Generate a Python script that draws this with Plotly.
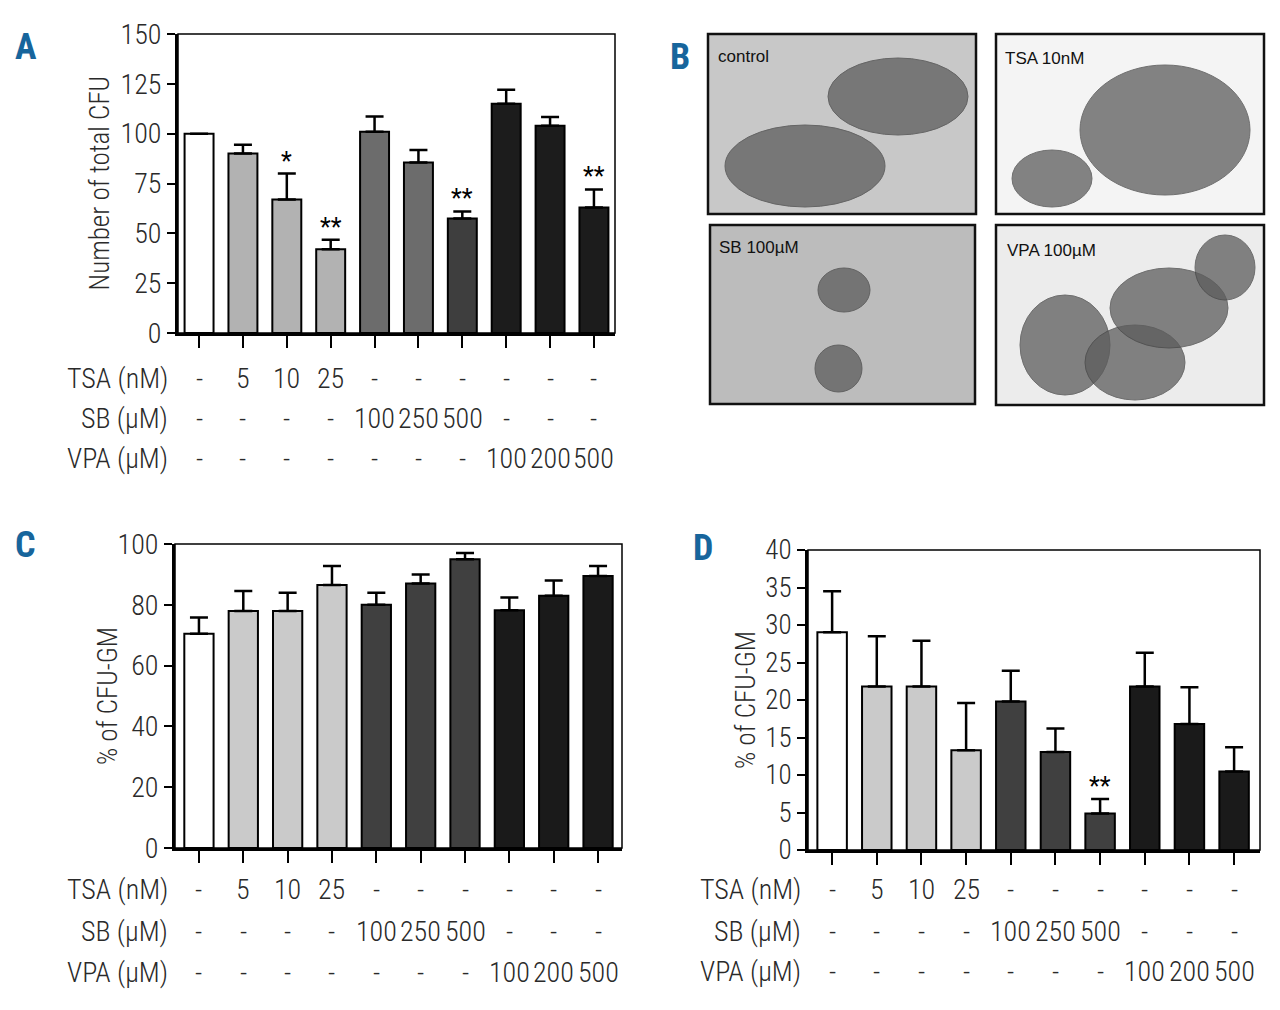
import plotly.graph_objects as go

W, H = 1280, 1010

# treatment rows shown under every bar chart
tsa_row = ["-", "5", "10", "25", "-", "-", "-", "-", "-", "-"]
sb_row = ["-", "-", "-", "-", "100", "250", "500", "-", "-", "-"]
vpa_row = ["-", "-", "-", "-", "-", "-", "-", "100", "200", "500"]
row_names = ["TSA (nM)", "SB (µM)", "VPA (µM)"]

# panel A: number of total CFU
a_vals = [100, 90, 67, 42, 101, 85.5, 57.4, 115, 104, 63]
a_errs = [100, 94.5, 80, 46.8, 108.6, 91.8, 61, 122, 108.3, 72]
a_sig = ["", "", "*", "**", "", "", "**", "", "", "**"]
a_cols = ["#ffffff", "#b2b2b2", "#b2b2b2", "#b2b2b2", "#6c6c6c", "#6c6c6c",
          "#3e3e3e", "#1c1c1c", "#1c1c1c", "#1c1c1c"]

# panel C: % of CFU-GM
c_vals = [70.5, 78, 78, 86.5, 80, 87, 95, 78.2, 83, 89.5]
c_errs = [75.8, 84.5, 84, 92.8, 84, 90, 97, 82.4, 88, 92.8]

# panel D: % of CFU-GM
d_vals = [29.05, 21.8, 21.8, 13.3, 19.8, 13.05, 4.85, 21.8, 16.8, 10.45]
d_errs = [34.5, 28.5, 27.9, 19.6, 23.9, 16.2, 6.8, 26.3, 21.7, 13.7]
d_sig = ["", "", "", "", "", "", "**", "", "", ""]
cd_cols = ["#ffffff", "#cacaca", "#cacaca", "#cacaca", "#404040", "#404040",
           "#404040", "#1a1a1a", "#1a1a1a", "#1a1a1a"]

# panel B: photo captions
photo_names = ["control", "TSA 10nM", "SB 100µM", "VPA 100µM"]

FONT = "Roboto Condensed, Liberation Sans Narrow, Roboto, sans-serif"
BLUE = "#17659c"
TXT = "#2a2a2a"
OFF = 8  # page margin of the html body


def px(x):
    return (x - OFF) / W


def py(y):
    return 1 - (y - OFF) / H


fig = go.Figure()
annotations = []
shapes = []


def note(x, y, text, size, xanchor="center", xref="paper", color=TXT, family=FONT, angle=0, weight=300):
    annotations.append(dict(x=x, y=y, xref=xref, yref="paper", text=text, showarrow=False,
                            xanchor=xanchor, yanchor="middle", textangle=angle,
                            font=dict(family=family, size=size, color=color, weight=weight)))


panels = [
    # letter, values, error tops, stars, colours, x domain px, y domain px, x range, y range, dtick,
    # y title, title x, row y positions, row label right edge, letter position, tick font size
    ("A", a_vals, a_errs, a_sig, a_cols, (178, 615), (34, 333), (-0.48, 9.48), (0, 150), 25,
     "Number of total CFU", 100, (378, 418, 459), 170, (26, 47), 28),
    ("C", c_vals, c_errs, [""] * 10, cd_cols, (175, 622), (544, 848), (-0.54, 9.54), (0, 100), 20,
     "% of CFU-GM", 108, (889, 931, 972), 170, (25, 545), 28),
    ("D", d_vals, d_errs, d_sig, cd_cols, (808, 1260), (550, 850), (-0.54, 9.58), (0, 40), 5,
     "% of CFU-GM", 746, (889, 931, 971), 803, (703, 548), 27),
]

for i, (name, vals, errs, sig, cols, xd, yd, xr, yr, dt, ylab, labx, rows_y, row_right, letter, tfs) in enumerate(panels):
    n = "" if i == 0 else str(i + 1)
    xa, ya = "x" + n, "y" + n
    cats = list(range(len(vals)))
    fig.add_trace(go.Bar(
        x=cats, y=vals, width=0.66, xaxis=xa, yaxis=ya,
        marker=dict(color=cols, line=dict(color="black", width=2)),
        error_y=dict(type="data", symmetric=False,
                     array=[e - v for e, v in zip(errs, vals)],
                     arrayminus=[0] * len(vals),
                     color="black", thickness=2.5, width=9),
        showlegend=False,
    ))
    fig.update_layout(**{
        "xaxis" + n: dict(domain=[px(xd[0]), px(xd[1])], range=list(xr), anchor=ya,
                          showline=True, linewidth=3, linecolor="black",
                          ticks="outside", ticklen=12, tickwidth=2, tickcolor="black",
                          tickvals=cats, showticklabels=False, automargin=False,
                          showgrid=False, zeroline=False, fixedrange=True),
        "yaxis" + n: dict(domain=[py(yd[1]), py(yd[0])], range=list(yr), anchor=xa,
                          showline=True, linewidth=3, linecolor="black",
                          ticks="outside", ticklen=8, tickwidth=2, tickcolor="black",
                          dtick=dt, tickfont=dict(family=FONT, size=tfs, color=TXT, weight=300),
                          automargin=False,
                          showgrid=False, zeroline=False, fixedrange=True),
    })
    shapes.append(dict(type="rect", xref=xa + " domain", yref=ya + " domain",
                       x0=0, x1=1, y0=0, y1=1, line=dict(color="black", width=1.5)))
    for c, s, e in zip(cats, sig, errs):
        if s:
            annotations.append(dict(x=c, y=e, xref=xa, yref=ya, text=s, showarrow=False,
                                    xanchor="center", yanchor="bottom", yshift=-4,
                                    font=dict(family=FONT, size=25, color="black")))
    note(px(labx), py((yd[0] + yd[1]) / 2), ylab, 27 if i else 27, angle=-90)
    for ry, rname, row in zip(rows_y, row_names, [tsa_row, sb_row, vpa_row]):
        note(px(row_right), py(ry), rname, 28, xanchor="right")
        for c, t in zip(cats, row):
            note(c, py(ry), t, 28, xref=xa)
    note(px(letter[0]), py(letter[1]), "<b>" + name + "</b>", 36, color=BLUE, weight=700)

# panel B: micrograph frames (photos cannot be reproduced, drawn as placeholders)
photo_boxes = [(708, 34, 976, 214), (996, 34, 1264, 214), (710, 225, 975, 404), (996, 225, 1264, 405)]
photo_bg = ["#c8c8c8", "#f4f4f4", "#bcbcbc", "#ececec"]
colony_boxes = [
    [(725, 125, 885, 207), (828, 58, 968, 135)],
    [(1080, 65, 1250, 195), (1012, 150, 1092, 207)],
    [(818, 268, 870, 312), (815, 345, 862, 392)],
    [(1020, 295, 1110, 395), (1085, 325, 1185, 400), (1110, 268, 1228, 348), (1195, 235, 1255, 300)],
]
cap_pos = [(716, 56), (1003, 58), (717, 247), (1005, 250)]

for box, bg, cols_, cap, txt in zip(photo_boxes, photo_bg, colony_boxes, cap_pos, photo_names):
    shapes.append(dict(type="rect", xref="paper", yref="paper",
                       x0=px(box[0]), x1=px(box[2]), y0=py(box[3]), y1=py(box[1]),
                       fillcolor=bg, line=dict(color="#111", width=2.5), layer="below"))
    for cb in cols_:
        shapes.append(dict(type="circle", xref="paper", yref="paper",
                           x0=px(cb[0]), x1=px(cb[2]), y0=py(cb[3]), y1=py(cb[1]),
                           fillcolor="#5c5c5c", opacity=0.75,
                           line=dict(color="#444", width=1), layer="below"))
    note(px(cap[0]), py(cap[1]), txt, 17, xanchor="left", color="#111",
         family="Liberation Sans, Arial, sans-serif", weight=400)

note(px(680), py(57), "<b>B</b>", 36, color=BLUE, weight=700)

fig.update_layout(
    width=W, height=H,
    margin=dict(l=0, r=0, t=0, b=0, autoexpand=False),
    paper_bgcolor="white", plot_bgcolor="white",
    shapes=shapes, annotations=annotations,
)

fig.write_html("out.html")
